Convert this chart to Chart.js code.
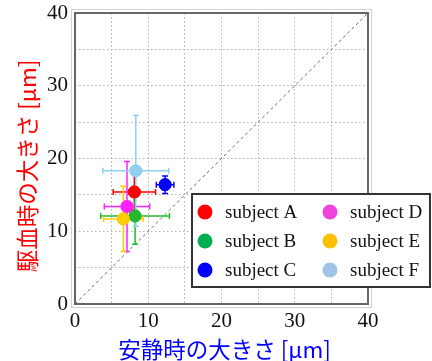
<!DOCTYPE html>
<html>
<head>
<meta charset="utf-8">
<script src="https://cdn.jsdelivr.net/npm/chart.js@4"></script>
<style>
  body { margin: 0; background: #fff; }
  #wrap { width: 432px; height: 361px; }
</style>
</head>
<body>
<div id="wrap"><canvas id="myChart" width="432" height="361"></canvas></div>
<script>
// subjects and their mean sizes (um) with error bars
var subjects = ['subject A', 'subject B', 'subject C', 'subject D', 'subject E', 'subject F'];
var restMean = [8.1, 8.2, 12.3, 7.1, 6.6, 8.3];
var restErr = [2.9, 4.7, 1.2, 3.1, 2.7, 4.5];
var cuffMean = [15.4, 12.1, 16.4, 13.4, 11.7, 18.3];
var cuffErr = [2.5, 3.9, 1.2, 6.2, 4.5, 7.6];
var markerColors = ['#ff0000', '#22b830', '#0000ff', '#ff22ff', '#ffcc00', '#8fd0ee'];
var legendColors = ['#ff0000', '#00b050', '#0000ff', '#ee44dd', '#ffc000', '#9dc3e6'];
var axisTicks = [0, 10, 20, 30, 40];

var datasets = [];
for (var i = 0; i < subjects.length; i++) {
    datasets.push({
        label: subjects[i],
        data: [{x: restMean[i], y: cuffMean[i], xe: restErr[i], ye: cuffErr[i]}],
        backgroundColor: markerColors[i],
        borderColor: markerColors[i],
        pointRadius: 6,
        pointHoverRadius: 6,
        order: 1
    });
}
// y = x reference line
datasets.push({
    type: 'line',
    label: 'y=x',
    data: [{x: 0, y: 0}, {x: 40, y: 40}],
    borderColor: '#666',
    borderWidth: 1,
    borderDash: [3, 3],
    pointRadius: 0,
    order: 2
});

var errorBars = {
    id: 'errorBars',
    afterDatasetsDraw: function(chart) {
        var ctx = chart.ctx, xs = chart.scales.x, ys = chart.scales.y;
        ctx.save();
        ctx.lineWidth = 1.5;
        for (var i = 0; i < subjects.length; i++) {
            var d = chart.data.datasets[i].data[0];
            var cx = xs.getPixelForValue(d.x), cy = ys.getPixelForValue(d.y);
            var x1 = xs.getPixelForValue(d.x - d.xe), x2 = xs.getPixelForValue(d.x + d.xe);
            var y1 = ys.getPixelForValue(d.y - d.ye), y2 = ys.getPixelForValue(d.y + d.ye);
            ctx.strokeStyle = markerColors[i];
            ctx.beginPath();
            ctx.moveTo(x1, cy); ctx.lineTo(x2, cy);
            ctx.moveTo(x1, cy - 3); ctx.lineTo(x1, cy + 3);
            ctx.moveTo(x2, cy - 3); ctx.lineTo(x2, cy + 3);
            ctx.moveTo(cx, y1); ctx.lineTo(cx, y2);
            ctx.moveTo(cx - 3, y1); ctx.lineTo(cx + 3, y1);
            ctx.moveTo(cx - 3, y2); ctx.lineTo(cx + 3, y2);
            ctx.stroke();
        }
        // redraw markers on top of the bars
        for (var j = 0; j < subjects.length; j++) {
            chart.getDatasetMeta(j).data.forEach(function(p) { p.draw(ctx); });
        }
        ctx.restore();
    }
};

var frameAndLegend = {
    id: 'frameAndLegend',
    afterDraw: function(chart) {
        var ctx = chart.ctx, a = chart.chartArea;
        ctx.save();
        // frame
        ctx.strokeStyle = '#d0d0d0';
        ctx.lineWidth = 1;
        ctx.strokeRect(a.left - 3.5, a.top - 3.5, a.right - a.left + 7, a.bottom - a.top + 7);
        ctx.strokeStyle = '#666';
        ctx.lineWidth = 2;
        ctx.strokeRect(a.left, a.top, a.right - a.left, a.bottom - a.top);

        // legend box
        ctx.fillStyle = '#fff';
        ctx.fillRect(192, 194, 238, 93);
        ctx.strokeStyle = '#333';
        ctx.lineWidth = 2;
        ctx.strokeRect(192, 194, 238, 93);
        ctx.font = '19px "Liberation Serif"';
        ctx.textBaseline = 'middle';
        ctx.textAlign = 'left';
        for (var i = 0; i < subjects.length; i++) {
            var col = Math.floor(i / 3), row = i % 3;
            var cx = col === 0 ? 205 : 330;
            var cy = 212 + row * 29;
            ctx.fillStyle = legendColors[i];
            ctx.beginPath();
            ctx.arc(cx, cy, 7.5, 0, Math.PI * 2);
            ctx.fill();
            ctx.fillStyle = '#111';
            ctx.fillText(subjects[i], cx + 20, cy + 1);
        }

        // axis titles
        ctx.font = '22.5px "Noto Sans CJK JP"';
        ctx.textAlign = 'center';
        ctx.fillStyle = '#0000ff';
        ctx.fillText('安静時の大きさ [μm]', (a.left + a.right) / 2 + 3, 349);
        ctx.translate(27, 166);
        ctx.rotate(-Math.PI / 2);
        ctx.fillStyle = '#ff0000';
        ctx.fillText('駆血時の大きさ [μm]', 0, 0);
        ctx.restore();
    }
};

function tickLabel(v) {
    return axisTicks.indexOf(v) >= 0 ? String(v) : '';
}

var ctx = document.getElementById('myChart');
var myChart = new Chart(ctx, {
    type: 'scatter',
    data: { datasets: datasets },
    options: {
        responsive: false,
        animation: false,
        events: [],
        layout: { padding: { top: 13, right: 64, left: 0, bottom: 0 } },
        plugins: { legend: { display: false }, tooltip: { enabled: false } },
        scales: {
            x: {
                min: 0, max: 40,
                afterFit: function(s) { s.height = 57; s.paddingLeft = 0; s.paddingRight = 0; },
                border: { display: false, dash: [1.5, 2.5] },
                grid: { color: '#b0b0b0', drawTicks: false },
                ticks: { stepSize: 5, padding: 5, color: '#111', maxRotation: 0, autoSkip: false,
                         font: { family: '"Liberation Serif"', size: 21 }, callback: tickLabel }
            },
            y: {
                min: 0, max: 40,
                afterFit: function(s) { s.width = 75; s.paddingTop = 0; s.paddingBottom = 0; },
                border: { display: false, dash: [1.5, 2.5] },
                grid: { color: '#b0b0b0', drawTicks: false },
                ticks: { stepSize: 5, padding: 7, color: '#111', autoSkip: false,
                         font: { family: '"Liberation Serif"', size: 21 }, callback: tickLabel }
            }
        }
    },
    plugins: [errorBars, frameAndLegend]
});
</script>
</body>
</html>
